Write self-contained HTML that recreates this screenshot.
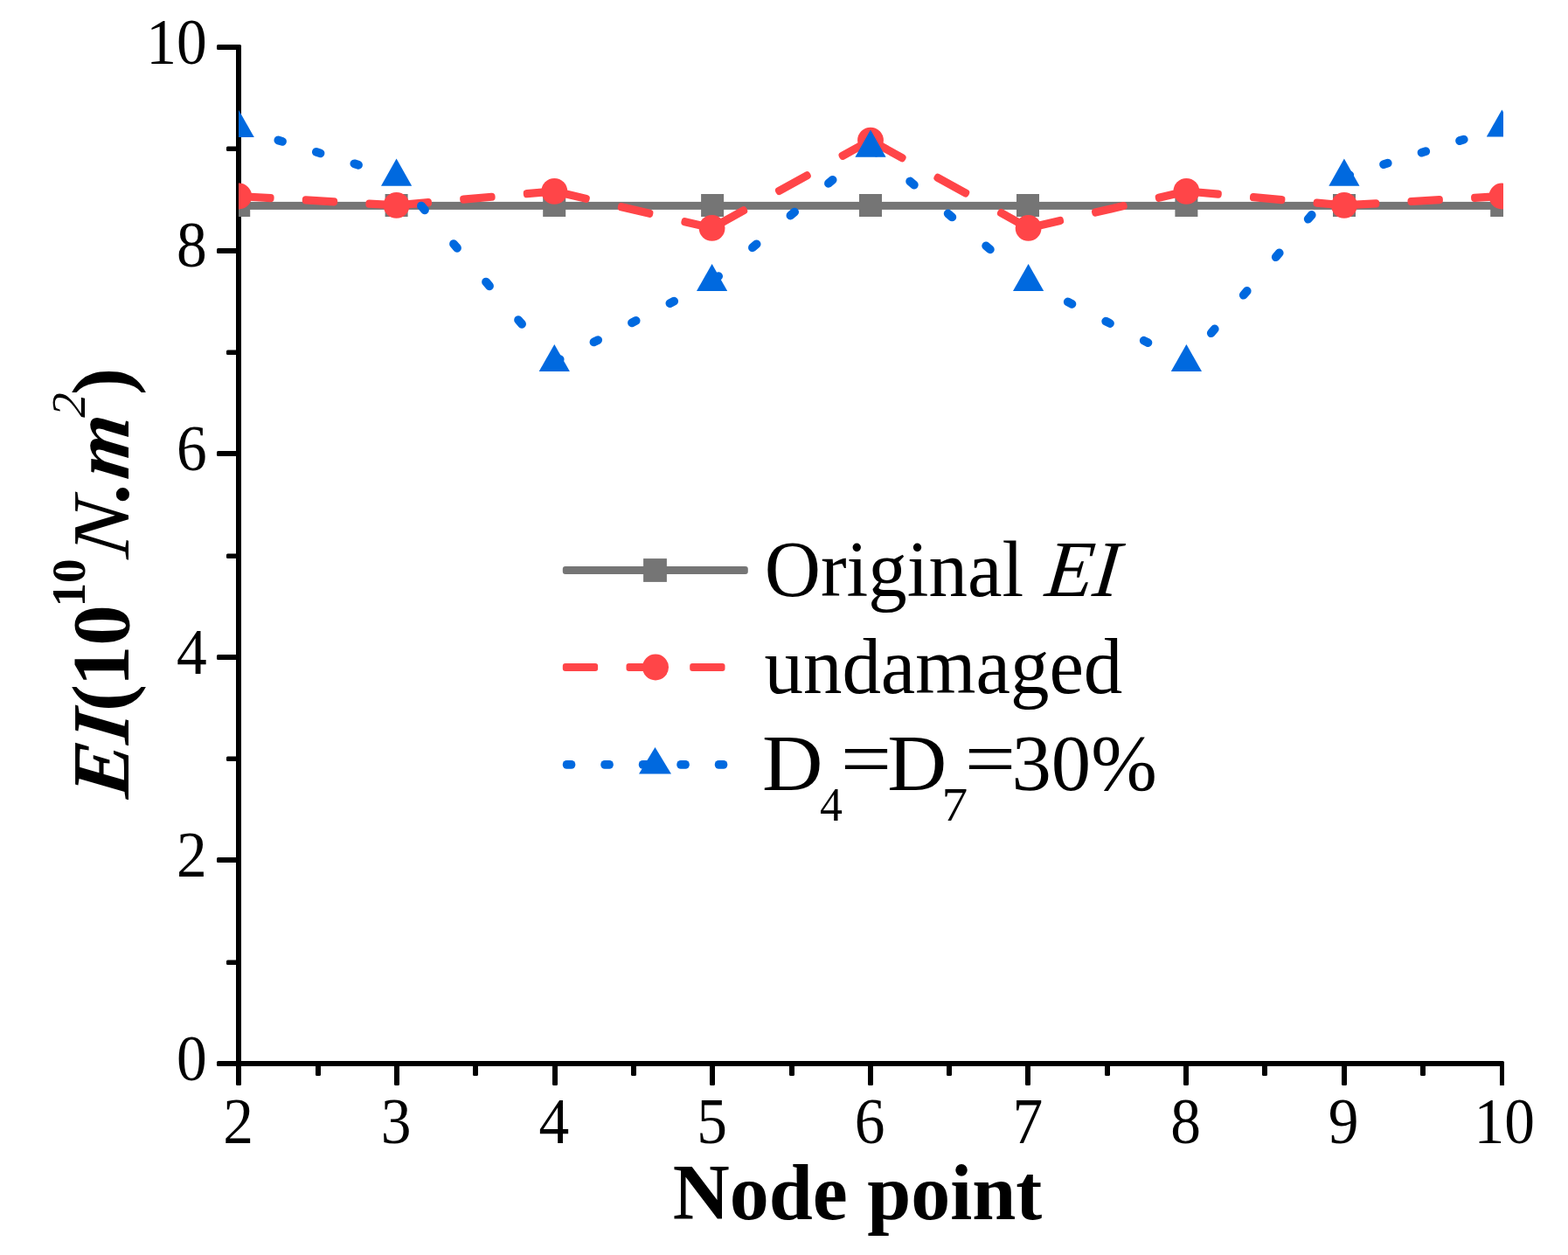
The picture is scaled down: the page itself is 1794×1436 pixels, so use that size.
<!DOCTYPE html>
<html lang="en"><head><meta charset="utf-8">
<style>
html,body{margin:0;padding:0;background:#fff;}
body{width:1794px;height:1436px;overflow:hidden;}
svg{display:block;}
text{font-family:'Liberation Serif', serif;fill:#000;}
.tick{font-size:73.5px;}
.title{font-size:90px;font-weight:bold;}
.yt{font-size:93px;font-weight:bold;}
.yi{font-size:93px;font-weight:bold;font-style:italic;}
.leg text{font-size:90px;}
</style></head><body>
<svg width="1794" height="1436" viewBox="0 0 1794 1436">
<rect x="0" y="0" width="1794" height="1436" fill="#fff"/>
<defs><clipPath id="plot"><rect x="273" y="40" width="1447" height="1180"/></clipPath></defs>
<g fill="#000">
<rect x="270" y="51" width="6" height="1191" rx="1.5"/>
<rect x="248" y="1214" width="1473" height="6" rx="1.5"/>
<rect x="259" y="1098.6" width="14" height="5.4" rx="1.5"/>
<rect x="248" y="981" width="25" height="6" rx="1.5"/>
<rect x="259" y="865.6" width="14" height="5.4" rx="1.5"/>
<rect x="248" y="749" width="25" height="6" rx="1.5"/>
<rect x="259" y="633.6" width="14" height="5.4" rx="1.5"/>
<rect x="248" y="516" width="25" height="6" rx="1.5"/>
<rect x="259" y="400.6" width="14" height="5.4" rx="1.5"/>
<rect x="248" y="284" width="25" height="6" rx="1.5"/>
<rect x="259" y="167.6" width="14" height="5.4" rx="1.5"/>
<rect x="248" y="51" width="25" height="6" rx="1.5"/>
<rect x="361" y="1217" width="6" height="14" rx="1.5"/>
<rect x="451" y="1217" width="6" height="25" rx="1.5"/>
<rect x="541" y="1217" width="6" height="14" rx="1.5"/>
<rect x="632" y="1217" width="6" height="25" rx="1.5"/>
<rect x="722" y="1217" width="6" height="14" rx="1.5"/>
<rect x="812" y="1217" width="6" height="25" rx="1.5"/>
<rect x="903" y="1217" width="6" height="14" rx="1.5"/>
<rect x="993" y="1217" width="6" height="25" rx="1.5"/>
<rect x="1083" y="1217" width="6" height="14" rx="1.5"/>
<rect x="1173" y="1217" width="6" height="25" rx="1.5"/>
<rect x="1264" y="1217" width="6" height="14" rx="1.5"/>
<rect x="1354" y="1217" width="6" height="25" rx="1.5"/>
<rect x="1444" y="1217" width="6" height="14" rx="1.5"/>
<rect x="1535" y="1217" width="6" height="25" rx="1.5"/>
<rect x="1625" y="1217" width="6" height="14" rx="1.5"/>
<rect x="1716" y="1217" width="5" height="25"/>
</g>
<g clip-path="url(#plot)">
<rect x="273.2" y="230.9" width="1450.2" height="9" fill="#757575"/>
<rect x="260.2" y="222.0" width="26" height="26" fill="#757575"/>
<rect x="440.6" y="222.0" width="26" height="26" fill="#757575"/>
<rect x="621.2" y="222.0" width="26" height="26" fill="#757575"/>
<rect x="802.1" y="222.0" width="26" height="26" fill="#757575"/>
<rect x="983.0" y="222.0" width="26" height="26" fill="#757575"/>
<rect x="1163.0" y="222.0" width="26" height="26" fill="#757575"/>
<rect x="1344.4" y="222.0" width="26" height="26" fill="#757575"/>
<rect x="1525.0" y="222.0" width="26" height="26" fill="#757575"/>
<rect x="1705.2" y="222.0" width="26" height="26" fill="#757575"/>
<rect x="273.17" y="221.06" width="40.45" height="9.20" rx="4.0" fill="#ff4548" transform="rotate(3.30 293.40 225.66)"/>
<rect x="345.77" y="225.25" width="40.45" height="9.20" rx="4.0" fill="#ff4548" transform="rotate(3.30 366.00 229.85)"/>
<rect x="418.37" y="229.42" width="39.85" height="9.20" rx="4.0" fill="#ff4548" transform="rotate(3.30 438.30 234.02)"/>
<rect x="453.54" y="228.51" width="40.52" height="9.20" rx="4.0" fill="#ff4548" transform="rotate(-5.06 473.80 233.11)"/>
<rect x="526.14" y="222.08" width="40.52" height="9.20" rx="4.0" fill="#ff4548" transform="rotate(-5.06 546.40 226.68)"/>
<rect x="598.74" y="215.67" width="40.22" height="9.20" rx="4.0" fill="#ff4548" transform="rotate(-5.06 618.85 220.27)"/>
<rect x="633.88" y="219.01" width="41.24" height="9.20" rx="4.0" fill="#ff4548" transform="rotate(13.11 654.50 223.61)"/>
<rect x="706.48" y="235.92" width="41.24" height="9.20" rx="4.0" fill="#ff4548" transform="rotate(13.11 727.10 240.52)"/>
<rect x="779.09" y="252.75" width="40.52" height="9.20" rx="4.0" fill="#ff4548" transform="rotate(13.11 799.35 257.35)"/>
<rect x="812.37" y="245.13" width="44.85" height="9.20" rx="4.0" fill="#ff4548" transform="rotate(-28.94 834.80 249.73)"/>
<rect x="884.97" y="204.99" width="44.85" height="9.20" rx="4.0" fill="#ff4548" transform="rotate(-28.94 907.40 209.59)"/>
<rect x="957.57" y="164.85" width="44.85" height="9.20" rx="4.0" fill="#ff4548" transform="rotate(-28.94 980.00 169.45)"/>
<rect x="993.76" y="167.22" width="44.89" height="9.20" rx="4.0" fill="#ff4548" transform="rotate(29.05 1016.20 171.82)"/>
<rect x="1066.36" y="207.54" width="44.89" height="9.20" rx="4.0" fill="#ff4548" transform="rotate(29.05 1088.80 212.14)"/>
<rect x="1138.98" y="247.75" width="44.43" height="9.20" rx="4.0" fill="#ff4548" transform="rotate(29.05 1161.20 252.35)"/>
<rect x="1176.18" y="251.61" width="41.23" height="9.20" rx="4.0" fill="#ff4548" transform="rotate(-13.08 1196.80 256.21)"/>
<rect x="1248.78" y="234.74" width="41.23" height="9.20" rx="4.0" fill="#ff4548" transform="rotate(-13.08 1269.40 239.34)"/>
<rect x="1321.39" y="217.90" width="41.03" height="9.20" rx="4.0" fill="#ff4548" transform="rotate(-13.08 1341.90 222.50)"/>
<rect x="1357.34" y="216.09" width="40.52" height="9.20" rx="4.0" fill="#ff4548" transform="rotate(5.07 1377.60 220.69)"/>
<rect x="1429.94" y="222.53" width="40.52" height="9.20" rx="4.0" fill="#ff4548" transform="rotate(5.07 1450.20 227.13)"/>
<rect x="1502.54" y="228.94" width="40.02" height="9.20" rx="4.0" fill="#ff4548" transform="rotate(5.07 1522.55 233.54)"/>
<rect x="1537.87" y="229.14" width="40.45" height="9.20" rx="4.0" fill="#ff4548" transform="rotate(-3.30 1558.10 233.74)"/>
<rect x="1610.47" y="224.95" width="40.45" height="9.20" rx="4.0" fill="#ff4548" transform="rotate(-3.30 1630.70 229.55)"/>
<rect x="1683.07" y="220.78" width="39.95" height="9.20" rx="4.0" fill="#ff4548" transform="rotate(-3.30 1703.05 225.38)"/>
<circle cx="273.2" cy="224.5" r="14.9" fill="#ff4548"/>
<circle cx="453.6" cy="234.9" r="14.9" fill="#ff4548"/>
<circle cx="634.3" cy="218.9" r="14.9" fill="#ff4548"/>
<circle cx="814.6" cy="260.9" r="14.9" fill="#ff4548"/>
<circle cx="996.0" cy="160.6" r="14.9" fill="#ff4548"/>
<circle cx="1176.6" cy="260.9" r="14.9" fill="#ff4548"/>
<circle cx="1357.4" cy="218.9" r="14.9" fill="#ff4548"/>
<circle cx="1537.9" cy="234.9" r="14.9" fill="#ff4548"/>
<circle cx="1718.4" cy="224.5" r="14.9" fill="#ff4548"/>
<rect x="269.84" y="142.84" width="14.72" height="9.80" rx="4.9" fill="#0069df" transform="rotate(17.16 277.20 147.74)"/>
<rect x="313.34" y="156.27" width="14.72" height="9.80" rx="4.9" fill="#0069df" transform="rotate(17.16 320.70 161.17)"/>
<rect x="356.84" y="169.70" width="14.72" height="9.80" rx="4.9" fill="#0069df" transform="rotate(17.16 364.20 174.60)"/>
<rect x="400.34" y="183.13" width="14.72" height="9.80" rx="4.9" fill="#0069df" transform="rotate(17.16 407.70 188.03)"/>
<rect x="476.00" y="233.00" width="15.97" height="9.80" rx="4.9" fill="#0069df" transform="rotate(49.60 483.99 237.90)"/>
<rect x="513.03" y="276.50" width="15.97" height="9.80" rx="4.9" fill="#0069df" transform="rotate(49.60 521.01 281.40)"/>
<rect x="550.05" y="320.00" width="15.97" height="9.80" rx="4.9" fill="#0069df" transform="rotate(49.60 558.04 324.90)"/>
<rect x="587.08" y="363.50" width="15.97" height="9.80" rx="4.9" fill="#0069df" transform="rotate(49.60 595.06 368.40)"/>
<rect x="630.76" y="407.56" width="15.08" height="9.80" rx="4.9" fill="#0069df" transform="rotate(-27.03 638.30 412.46)"/>
<rect x="674.26" y="385.36" width="15.08" height="9.80" rx="4.9" fill="#0069df" transform="rotate(-27.03 681.80 390.26)"/>
<rect x="717.76" y="363.17" width="15.08" height="9.80" rx="4.9" fill="#0069df" transform="rotate(-27.03 725.30 368.07)"/>
<rect x="761.26" y="340.97" width="15.08" height="9.80" rx="4.9" fill="#0069df" transform="rotate(-27.03 768.80 345.87)"/>
<rect x="811.82" y="313.21" width="15.95" height="9.80" rx="4.9" fill="#0069df" transform="rotate(-40.20 819.80 318.11)"/>
<rect x="855.32" y="276.44" width="15.95" height="9.80" rx="4.9" fill="#0069df" transform="rotate(-40.20 863.30 281.34)"/>
<rect x="898.82" y="239.68" width="15.95" height="9.80" rx="4.9" fill="#0069df" transform="rotate(-40.20 906.80 244.58)"/>
<rect x="942.32" y="202.92" width="15.95" height="9.80" rx="4.9" fill="#0069df" transform="rotate(-40.20 950.30 207.82)"/>
<rect x="992.02" y="167.70" width="15.96" height="9.80" rx="4.9" fill="#0069df" transform="rotate(40.33 1000.00 172.60)"/>
<rect x="1035.52" y="204.62" width="15.96" height="9.80" rx="4.9" fill="#0069df" transform="rotate(40.33 1043.50 209.52)"/>
<rect x="1079.02" y="241.54" width="15.96" height="9.80" rx="4.9" fill="#0069df" transform="rotate(40.33 1087.00 246.44)"/>
<rect x="1122.52" y="278.47" width="15.96" height="9.80" rx="4.9" fill="#0069df" transform="rotate(40.33 1130.50 283.37)"/>
<rect x="1173.06" y="319.64" width="15.07" height="9.80" rx="4.9" fill="#0069df" transform="rotate(26.97 1180.60 324.54)"/>
<rect x="1216.56" y="341.77" width="15.07" height="9.80" rx="4.9" fill="#0069df" transform="rotate(26.97 1224.10 346.67)"/>
<rect x="1260.06" y="363.91" width="15.07" height="9.80" rx="4.9" fill="#0069df" transform="rotate(26.97 1267.60 368.81)"/>
<rect x="1303.56" y="386.04" width="15.07" height="9.80" rx="4.9" fill="#0069df" transform="rotate(26.97 1311.10 390.94)"/>
<rect x="1379.77" y="373.90" width="15.97" height="9.80" rx="4.9" fill="#0069df" transform="rotate(-49.63 1387.75 378.80)"/>
<rect x="1416.75" y="330.40" width="15.97" height="9.80" rx="4.9" fill="#0069df" transform="rotate(-49.63 1424.74 335.30)"/>
<rect x="1453.74" y="286.90" width="15.97" height="9.80" rx="4.9" fill="#0069df" transform="rotate(-49.63 1461.72 291.80)"/>
<rect x="1490.72" y="243.40" width="15.97" height="9.80" rx="4.9" fill="#0069df" transform="rotate(-49.63 1498.71 248.30)"/>
<rect x="1534.54" y="196.05" width="14.72" height="9.80" rx="4.9" fill="#0069df" transform="rotate(-17.29 1541.90 200.95)"/>
<rect x="1578.04" y="182.51" width="14.72" height="9.80" rx="4.9" fill="#0069df" transform="rotate(-17.29 1585.40 187.41)"/>
<rect x="1621.54" y="168.97" width="14.72" height="9.80" rx="4.9" fill="#0069df" transform="rotate(-17.29 1628.90 173.87)"/>
<rect x="1665.04" y="155.42" width="14.72" height="9.80" rx="4.9" fill="#0069df" transform="rotate(-17.29 1672.40 160.32)"/>
<polygon points="273.2,125.9 290.8,157.0 255.6,157.0" fill="#0069df"/>
<polygon points="453.6,181.6 471.2,212.7 436.0,212.7" fill="#0069df"/>
<polygon points="634.3,393.9 651.9,425.0 616.7,425.0" fill="#0069df"/>
<polygon points="814.6,301.9 832.2,333.0 797.0,333.0" fill="#0069df"/>
<polygon points="996.0,148.6 1013.6,179.7 978.4,179.7" fill="#0069df"/>
<polygon points="1176.6,301.9 1194.2,333.0 1159.0,333.0" fill="#0069df"/>
<polygon points="1357.4,393.9 1375.0,425.0 1339.8,425.0" fill="#0069df"/>
<polygon points="1537.9,181.6 1555.5,212.7 1520.3,212.7" fill="#0069df"/>
<polygon points="1718.4,125.4 1736.0,156.5 1700.8,156.5" fill="#0069df"/>
</g>
<text class="tick" transform="translate(236.8,1235.8) scale(0.945,1)" text-anchor="end">0</text>
<text class="tick" transform="translate(236.8,1003.2) scale(0.945,1)" text-anchor="end">2</text>
<text class="tick" transform="translate(236.8,770.6) scale(0.945,1)" text-anchor="end">4</text>
<text class="tick" transform="translate(236.8,538.0) scale(0.945,1)" text-anchor="end">6</text>
<text class="tick" transform="translate(236.8,305.4) scale(0.945,1)" text-anchor="end">8</text>
<text class="tick" transform="translate(236.8,72.8) scale(0.945,1)" text-anchor="end">10</text>
<text class="tick" transform="translate(272.5,1308) scale(0.945,1)" text-anchor="middle">2</text>
<text class="tick" transform="translate(453.2,1308) scale(0.945,1)" text-anchor="middle">3</text>
<text class="tick" transform="translate(633.8,1308) scale(0.945,1)" text-anchor="middle">4</text>
<text class="tick" transform="translate(814.5,1308) scale(0.945,1)" text-anchor="middle">5</text>
<text class="tick" transform="translate(995.1,1308) scale(0.945,1)" text-anchor="middle">6</text>
<text class="tick" transform="translate(1175.8,1308) scale(0.945,1)" text-anchor="middle">7</text>
<text class="tick" transform="translate(1356.5,1308) scale(0.945,1)" text-anchor="middle">8</text>
<text class="tick" transform="translate(1537.1,1308) scale(0.945,1)" text-anchor="middle">9</text>
<text class="tick" transform="translate(1721.3,1308) scale(0.945,1)" text-anchor="middle">10</text>
<text class="title" x="981" y="1394.8" text-anchor="middle">Node point</text>
<g transform="translate(147.3,915.1) rotate(-90)"><text class="yi" transform="translate(0.7,0) skewX(-6.5)">EI</text><text class="yt" x="101.2" y="0">(</text><text class="yt" x="129.9" y="0">10</text><text class="yt" x="220.6" y="-50.7" style="font-size:55px">10</text><text class="yi" transform="translate(275.1,0) scale(1.057,1) skewX(-6.5)" style="font-weight:normal">N</text><text class="yt" x="337.9" y="0">.</text><text class="yi" transform="translate(365.4,0) skewX(-6.5)">m</text><text class="yi" transform="translate(437.4,-50.7) skewX(-2)" style="font-size:55px;font-weight:normal">2</text><text class="yt" x="463" y="0">)</text></g>
<rect x="643.8" y="647.9" width="212.0" height="9.2" rx="3" fill="#757575"/>
<rect x="736.1" y="639.1" width="26.8" height="26.8" fill="#757575"/>
<rect x="643.8" y="758.9" width="40.3" height="9.2" rx="3" fill="#ff4548"/>
<rect x="716.5" y="758.9" width="40.3" height="9.2" rx="3" fill="#ff4548"/>
<rect x="789.2" y="758.9" width="40.3" height="9.2" rx="3" fill="#ff4548"/>
<circle cx="750.0" cy="763.5" r="15" fill="#ff4548"/>
<rect x="643.8" y="870.0" width="14.5" height="9.8" rx="4.6" fill="#0069df"/>
<rect x="687.3" y="870.0" width="14.5" height="9.8" rx="4.6" fill="#0069df"/>
<rect x="730.8" y="870.0" width="14.5" height="9.8" rx="4.6" fill="#0069df"/>
<rect x="774.3" y="870.0" width="14.5" height="9.8" rx="4.6" fill="#0069df"/>
<rect x="817.8" y="870.0" width="14.5" height="9.8" rx="4.6" fill="#0069df"/>
<polygon points="749.5,854.9 768.0,885.6 731.0,885.6" fill="#0069df"/>
<g class="leg"><text transform="translate(874.8,682.3) scale(0.988,1.02)">Original </text><text font-style="italic" transform="translate(1194.3,682.3) scale(0.988,1.02) skewX(-6.5)">EI</text></g>
<g class="leg"><text transform="translate(874.5,793.1) scale(0.988,1.02)">undamaged</text></g>
<g><text transform="translate(871.93,903.80) scale(1.0697,1.020)" font-size="90">D</text><text transform="translate(937.89,939.00) scale(0.9601,1.000)" font-size="54">4</text><text transform="translate(961.84,898.80) scale(1.1509,1.020)" font-size="90">=</text><text transform="translate(1015.19,903.80) scale(1.0459,1.020)" font-size="90">D</text><text transform="translate(1077.58,939.00) scale(1.1012,1.000)" font-size="54">7</text><text transform="translate(1103.64,898.80) scale(1.1509,1.020)" font-size="90">=</text><text transform="translate(1157.46,903.80) scale(1.0083,1.020)" font-size="90">30%</text></g>
</svg>
</body></html>
